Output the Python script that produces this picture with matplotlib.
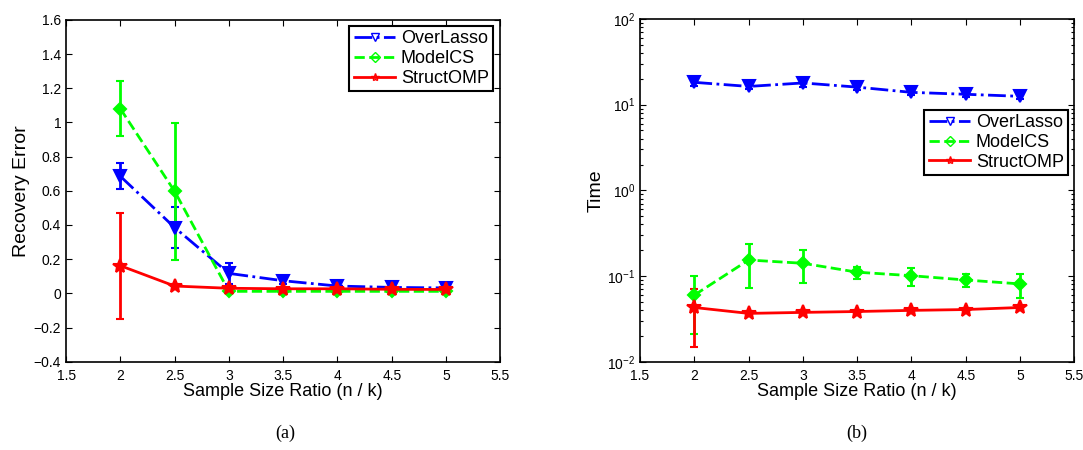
import numpy as np
import matplotlib
matplotlib.use('Agg')
import matplotlib.pyplot as plt
from matplotlib.ticker import FuncFormatter, LogLocator

plt.rcParams['font.family'] = ['Liberation Sans', 'DejaVu Sans']

# data
ratio = [2, 2.5, 3, 3.5, 4, 4.5, 5]
series_names = ['OverLasso', 'ModelCS', 'StructOMP']

err_overlasso = [0.685, 0.385, 0.117, 0.074, 0.043, 0.035, 0.032]
err_overlasso_sd = [0.075, 0.12, 0.06, 0.02, 0.012, 0.01, 0.01]
err_modelcs = [1.08, 0.597, 0.012, 0.012, 0.012, 0.012, 0.012]
err_modelcs_sd = [0.16, 0.40, 0.01, 0.008, 0.008, 0.008, 0.008]
err_structomp = [0.162, 0.043, 0.030, 0.027, 0.027, 0.024, 0.023]
err_structomp_sd = [0.31, 0.01, 0.006, 0.005, 0.005, 0.005, 0.005]

time_overlasso = [18.2, 16.3, 17.9, 16.0, 13.9, 13.2, 12.5]
time_overlasso_sd = [1.8, 1.2, 2.0, 1.3, 1.0, 1.0, 0.9]
time_modelcs = [0.060, 0.154, 0.141, 0.111, 0.101, 0.090, 0.081]
time_modelcs_sd = [0.039, 0.082, 0.059, 0.018, 0.024, 0.015, 0.026]
time_structomp = [0.043, 0.0367, 0.0377, 0.0386, 0.0398, 0.0407, 0.043]
time_structomp_sd = [0.028, 0.002, 0.002, 0.002, 0.002, 0.002, 0.002]

styles = [
    dict(color=(0, 0, 1), ls='-.', marker='v', ms=8),
    dict(color=(0, 1, 0), ls='--', marker='D', ms=6),
    dict(color=(1, 0, 0), ls='-', marker='*', ms=10),
]

fig = plt.figure(figsize=(10.83, 4.5), dpi=100)
ax1 = fig.add_axes([0.061, 0.196, 0.401, 0.760])
ax2 = fig.add_axes([0.591, 0.196, 0.401, 0.762])

fmt = FuncFormatter(lambda v, p: ('%g' % v).replace('-', '\u2212'))

def draw(ax, ys, sds):
    for name, y, sd, st in zip(series_names, ys, sds, styles):
        ax.errorbar(ratio, y, yerr=sd, color=st['color'], ls=st['ls'],
                    marker=st['marker'], mfc=st['color'], mec=st['color'],
                    ms=st['ms'], mew=1.5, lw=2, elinewidth=2, capsize=3,
                    capthick=2, label=name)
    ax.set_xlim(1.5, 5.5)
    ax.set_xticks(np.arange(1.5, 5.51, 0.5))
    ax.xaxis.set_major_formatter(fmt)
    ax.tick_params(which='both', direction='in', top=True, right=True,
                   labelsize=10, width=0.8)
    ax.tick_params(which='major', length=4)
    ax.tick_params(which='minor', length=2)
    ax.tick_params(axis='x', pad=5)
    for s in ax.spines.values():
        s.set_linewidth(1.2)
    ax.set_xlabel('Sample Size Ratio (n / k)', fontsize=13, labelpad=0)
    # legend entries: open markers, no error bars
    handles = [plt.Line2D([], [], color=st['color'], ls=st['ls'], lw=2,
                          marker=st['marker'], mfc='none', mec=st['color'],
                          ms=6 if st['marker'] != 'D' else 5, mew=1)
               for st in styles]
    return handles

h = draw(ax1, [err_overlasso, err_modelcs, err_structomp],
         [err_overlasso_sd, err_modelcs_sd, err_structomp_sd])
ax1.set_ylim(-0.4, 1.6)
ax1.set_yticks(np.arange(-0.4, 1.61, 0.2))
ax1.yaxis.set_major_formatter(fmt)
ax1.set_ylabel('Recovery Error', fontsize=14, labelpad=3)
leg = ax1.legend(h, series_names, loc='upper right', bbox_to_anchor=(0.984, 0.982),
                 fontsize=13, fancybox=False, edgecolor='black', framealpha=1,
                 handlelength=2.3, handletextpad=0.3, borderpad=0.25,
                 labelspacing=0.15, borderaxespad=0)
leg.get_frame().set_linewidth(1.5)

h = draw(ax2, [time_overlasso, time_modelcs, time_structomp],
         [time_overlasso_sd, time_modelcs_sd, time_structomp_sd])
ax2.set_yscale('log')
ax2.set_ylim(1e-2, 1e2)
ax2.yaxis.set_major_locator(LogLocator(base=10, numticks=10))
ax2.yaxis.set_minor_locator(LogLocator(base=10, subs=np.arange(2, 10), numticks=10))
ax2.set_ylabel('Time', fontsize=14, labelpad=2)
leg = ax2.legend(h, series_names, loc='upper right', bbox_to_anchor=(0.986, 0.735),
                 fontsize=13, fancybox=False, edgecolor='black', framealpha=1,
                 handlelength=2.3, handletextpad=0.3, borderpad=0.25,
                 labelspacing=0.15, borderaxespad=0)
leg.get_frame().set_linewidth(1.5)

fig.text(0.2635, 0.027, '(a)', fontsize=13, family='Liberation Serif', ha='center')
fig.text(0.7915, 0.027, '(b)', fontsize=13, family='Liberation Serif', ha='center')

fig.savefig('out.png', dpi=100)
